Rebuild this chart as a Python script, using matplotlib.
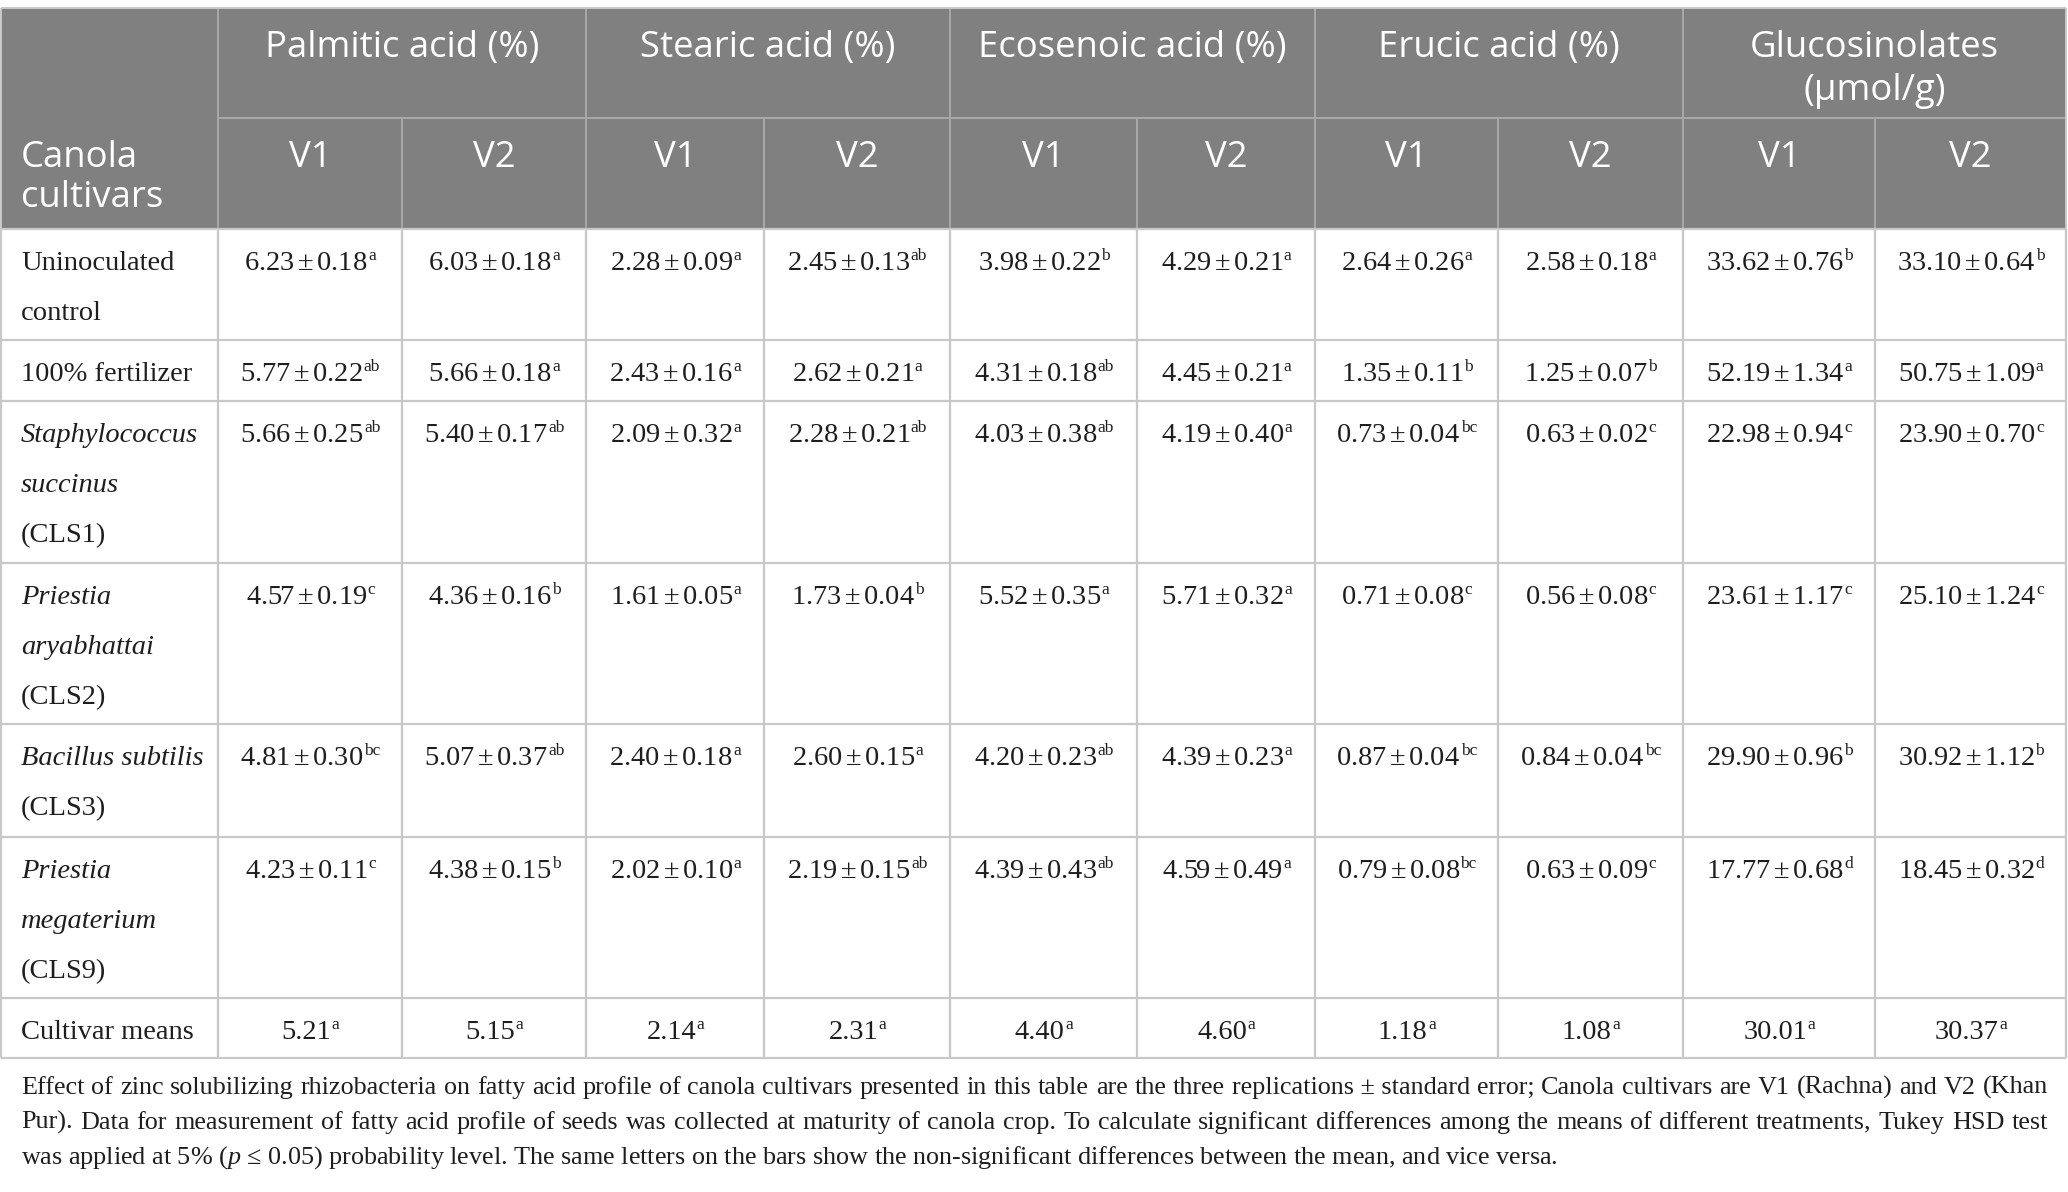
import matplotlib
matplotlib.use("Agg")
from matplotlib import pyplot as plt
from matplotlib.patches import Rectangle

plt.rcParams['mathtext.fontset'] = 'custom'
plt.rcParams['mathtext.rm'] = 'Liberation Serif'
plt.rcParams['mathtext.it'] = 'Liberation Serif:italic'

# ---- table content ----
groups = ["Palmitic acid (%)", "Stearic acid (%)", "Ecosenoic acid (%)",
          "Erucic acid (%)", "Glucosinolates\n(\u03bcmol/g)"]
cultivars = ["V1", "V2"]
first_col = ["Canola", "cultivars"]

# each label line: (text, italic)
treatments = [
    [("Uninoculated", False), ("control", False)],
    [("100% fertilizer", False)],
    [("Staphylococcus", True), ("succinus", True), ("(CLS1)", False)],
    [("Priestia", True), ("aryabhattai", True), ("(CLS2)", False)],
    [("Bacillus subtilis", True), ("(CLS3)", False)],
    [("Priestia", True), ("megaterium", True), ("(CLS9)", False)],
]

means = [
    [6.23, 6.03, 2.28, 2.45, 3.98, 4.29, 2.64, 2.58, 33.62, 33.10],
    [5.77, 5.66, 2.43, 2.62, 4.31, 4.45, 1.35, 1.25, 52.19, 50.75],
    [5.66, 5.40, 2.09, 2.28, 4.03, 4.19, 0.73, 0.63, 22.98, 23.90],
    [4.57, 4.36, 1.61, 1.73, 5.52, 5.71, 0.71, 0.56, 23.61, 25.10],
    [4.81, 5.07, 2.40, 2.60, 4.20, 4.39, 0.87, 0.84, 29.90, 30.92],
    [4.23, 4.38, 2.02, 2.19, 4.39, 4.59, 0.79, 0.63, 17.77, 18.45],
]
errors = [
    [0.18, 0.18, 0.09, 0.13, 0.22, 0.21, 0.26, 0.18, 0.76, 0.64],
    [0.22, 0.18, 0.16, 0.21, 0.18, 0.21, 0.11, 0.07, 1.34, 1.09],
    [0.25, 0.17, 0.32, 0.21, 0.38, 0.40, 0.04, 0.02, 0.94, 0.70],
    [0.19, 0.16, 0.05, 0.04, 0.35, 0.32, 0.08, 0.08, 1.17, 1.24],
    [0.30, 0.37, 0.18, 0.15, 0.23, 0.23, 0.04, 0.04, 0.96, 1.12],
    [0.11, 0.15, 0.10, 0.15, 0.43, 0.49, 0.08, 0.09, 0.68, 0.32],
]
letters = [
    ["a", "a", "a", "ab", "b", "a", "a", "a", "b", "b"],
    ["ab", "a", "a", "a", "ab", "a", "b", "b", "a", "a"],
    ["ab", "ab", "a", "ab", "ab", "a", "bc", "c", "c", "c"],
    ["c", "b", "a", "b", "a", "a", "c", "c", "c", "c"],
    ["bc", "ab", "a", "a", "ab", "a", "bc", "bc", "b", "b"],
    ["c", "b", "a", "ab", "ab", "a", "bc", "c", "d", "d"],
]
means_label = "Cultivar means"
cultivar_means = [5.21, 5.15, 2.14, 2.31, 4.40, 4.60, 1.18, 1.08, 30.01, 30.37]
cultivar_letters = ["a"] * 10

caption = [
    "Effect of zinc solubilizing rhizobacteria on fatty acid profile of canola cultivars presented in this table are the three replications\u00a0\u00b1\u00a0standard error; Canola cultivars are V1 (Rachna) and V2 (Khan",
    "Pur). Data for measurement of fatty acid profile of seeds was collected at maturity of canola crop. To calculate significant differences among the means of different treatments, Tukey HSD test",
    "was applied at 5% ($\\mathit{p}$ \u2264 0.05) probability level. The same letters on the bars show the non-significant differences between the mean, and vice versa.",
]

# ---- layout (pixels) ----
W, H = 2068, 1192
cols = [1, 218, 402, 586, 764, 950, 1137, 1315, 1498, 1683, 1875, 2066]
rows = [8, 118, 229, 340, 401, 563, 724, 837, 998, 1058]
head_bg = "#808080"
head_line = "#a9a9a9"
grid = "#c8c8c8"
ink = "#1e1e1e"
sans = "Open Sans"
serif = "Liberation Serif"
fs_head = 26.3
fs_body = 20.5
fs_sup = 12.5
fs_cap = 16

fig = plt.figure(figsize=(W / 100, H / 100), dpi=100)
ax = fig.add_axes([0, 0, 1, 1])
ax.set_xlim(0, W)
ax.set_ylim(H, 0)
ax.axis("off")
fig.canvas.draw()
rend = fig.canvas.get_renderer()

# header background
ax.add_patch(Rectangle((cols[0], rows[0]), cols[-1] - cols[0], rows[2] - rows[0],
                       facecolor=head_bg, edgecolor="none", zorder=0))

# header lines
ax.hlines(rows[1], cols[1], cols[-1], color=head_line, lw=1.4)
for i, x in enumerate(cols[1:-1]):
    top = rows[0] if i % 2 == 0 else rows[1]
    ax.vlines(x, top, rows[2], color=head_line, lw=1.4)
ax.hlines(rows[0], cols[0], cols[-1], color=grid, lw=1.4)

# body lines
for y in rows[2:]:
    ax.hlines(y, cols[0], cols[-1], color=grid, lw=1.6)
for x in cols:
    ax.vlines(x, rows[2], rows[-1], color=grid, lw=1.6)
ax.vlines([cols[0], cols[-1]], rows[0], rows[2], color=grid, lw=1.4)

# header text
for g, name in enumerate(groups):
    xc = (cols[1 + 2 * g] + cols[3 + 2 * g]) / 2
    for k, line in enumerate(name.split("\n")):
        ax.text(xc, 57 + 43 * k, line, ha="center", va="baseline",
                fontsize=fs_head, family=sans, color="white")
    for j, cv in enumerate(cultivars):
        xm = (cols[1 + 2 * g + j] + cols[2 + 2 * g + j]) / 2
        ax.text(xm, 167, cv, ha="center", va="baseline",
                fontsize=fs_head, family=sans, color="white")
for k, line in enumerate(first_col):
    ax.text(21, 167 + 40 * k, line, ha="left", va="baseline",
            fontsize=fs_head, family=sans, color="white")


# body text: value plus small superscript letters, centred together
def cell(xc, y, txt, sup):
    t = ax.text(0, y, txt, ha="left", va="baseline", fontsize=fs_body,
                family=serif, color=ink)
    s = ax.text(0, y - 10, sup, ha="left", va="baseline", fontsize=fs_sup,
                family=serif, color=ink)
    wt = t.get_window_extent(rend).width
    ws = s.get_window_extent(rend).width
    x0 = xc - (wt + ws) / 2
    t.set_x(x0)
    s.set_x(x0 + wt + 0.5)


for r, label in enumerate(treatments):
    top = rows[2 + r]
    for k, (line, it) in enumerate(label):
        ax.text(21, top + 41 + 50 * k, line, ha="left", va="baseline",
                fontsize=fs_body, family=serif, color=ink,
                style="italic" if it else "normal")
    for c in range(10):
        xc = (cols[1 + c] + cols[2 + c]) / 2
        cell(xc, top + 41, "%.2f$\\,$\u00b1$\\,$%.2f" % (means[r][c], errors[r][c]),
             letters[r][c])

top = rows[-2]
ax.text(21, top + 41, means_label, ha="left", va="baseline",
        fontsize=fs_body, family=serif, color=ink)
for c in range(10):
    xc = (cols[1 + c] + cols[2 + c]) / 2
    cell(xc, top + 41, "%.2f" % cultivar_means[c], cultivar_letters[c])

# caption: size chosen so the first line fills the width, first two lines justified
cap_y = [1094, 1129, 1164]
left, right = 21, 2048
probe = ax.text(0, 0, caption[0], fontsize=fs_cap, family=serif)
fs_cap = fs_cap * (right - left - 6) / probe.get_window_extent(rend).width
probe.remove()
for i, line in enumerate(caption):
    if i < 2:
        words = line.split(" ")
        objs = [ax.text(0, cap_y[i], w, ha="left", va="baseline", fontsize=fs_cap,
                        family=serif, color=ink) for w in words]
        widths = [o.get_window_extent(rend).width for o in objs]
        gap = (right - left - sum(widths)) / (len(words) - 1)
        x = left
        for o, w in zip(objs, widths):
            o.set_x(x)
            x += w + gap
    else:
        ax.text(left, cap_y[i], line, ha="left", va="baseline", fontsize=fs_cap,
                family=serif, color=ink)

fig.savefig("out.png", dpi=100)
